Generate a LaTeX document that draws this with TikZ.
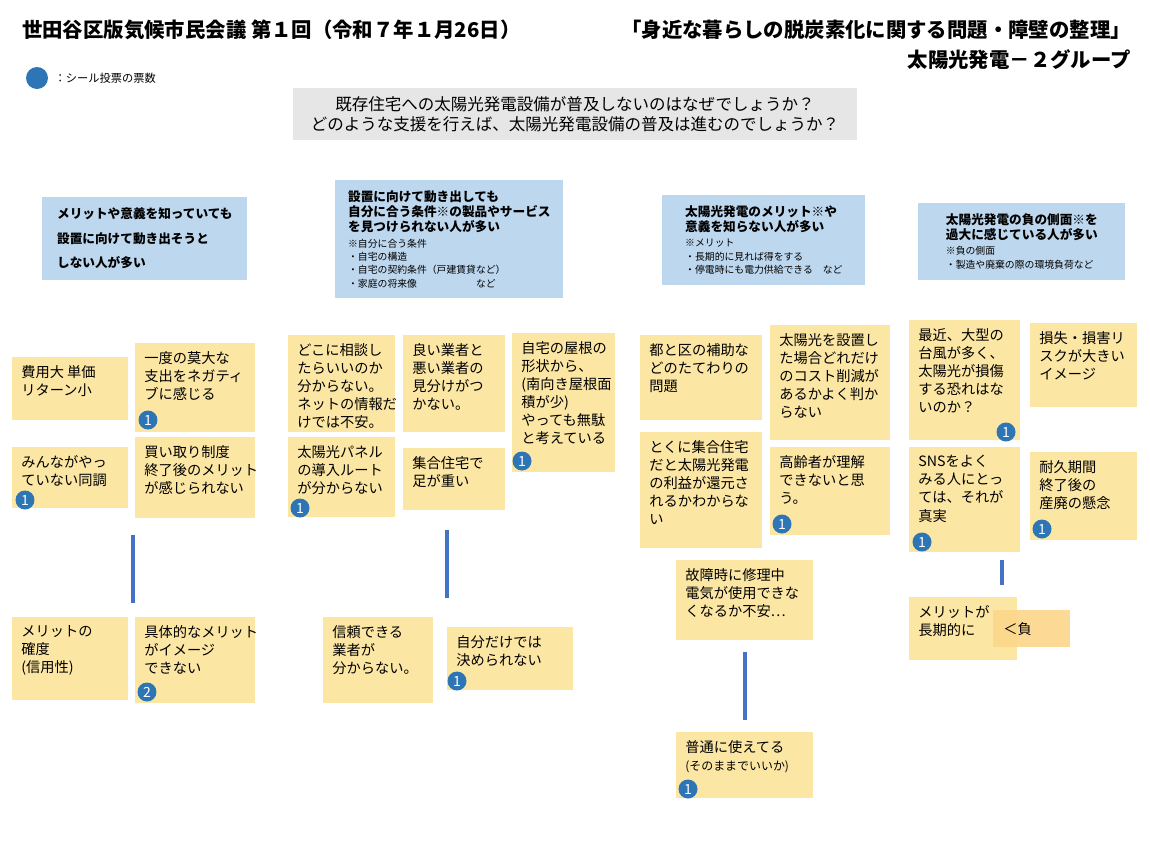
\documentclass[tikz,border=0pt]{standalone}
\usepackage{fontspec}
\setmainfont{Noto Sans CJK JP}
\usetikzlibrary{positioning}
\definecolor{notey}{HTML}{FCE6A4}
\definecolor{headblue}{HTML}{BDD7EE}
\definecolor{votedot}{HTML}{2E75B6}
\definecolor{askgray}{HTML}{E7E6E6}
\definecolor{barblue}{HTML}{4472C4}
\newcommand{\notebox}[6]{%
  \node[note, minimum width=#4*0.02cm, minimum height=#5*0.02cm] (#1) at (#2,#3) {};
  \node[notetext] at ([shift={(9,8)}]#1.north west) {#6};}
\newcommand{\hsub}{\fontsize{5.6}{6.6}\selectfont\mdseries}
\begin{document}
\begin{tikzpicture}[x=0.02cm,y=-0.02cm]
\tikzset{
note/.style={anchor=north west, fill=notey, inner sep=0pt}, % sticky notes
notetext/.style={anchor=north west, inner sep=0pt, font=\fontsize{8.1}{10.3}\selectfont, align=left},
header/.style={anchor=north west, fill=headblue, inner sep=6pt, align=left, font=\fontsize{7.2}{8.6}\selectfont\bfseries},
vote/.style={circle, fill=votedot, text=white, inner sep=0pt, minimum size=0.38cm, font=\fontsize{8}{8}\selectfont},
bar/.style={barblue, line width=2pt},
}
\useasboundingbox[fill=white] (0,0) rectangle (1150,863);
% titles
\node[anchor=west, font=\fontsize{11.6}{13}\selectfont\bfseries] (title) at (16,30) {世田谷区版気候市民会議 第１回（令和７年１月26日）};
\node[anchor=east, font=\fontsize{11.6}{13}\selectfont\bfseries] (theme) at (1137,30) {「身近な暮らしの脱炭素化に関する問題・障壁の整理」};
\node[anchor=east, font=\fontsize{11.6}{13}\selectfont\bfseries] (group) at (1137,60) {太陽光発電－２グループ};
\node[vote, minimum size=0.44cm] (legdot) at (37,78) {};
\node[right=0pt of legdot, font=\fontsize{6.4}{7}\selectfont] (legtext) {：シール投票の票数};
% question
\node[fill=askgray, minimum width=564*0.02cm, minimum height=52*0.02cm, align=center, font=\fontsize{9.4}{11.6}\selectfont] (ask) at (575,114) {既存住宅への太陽光発電設備が普及しないのはなぜでしょうか？\\どのような支援を行えば、太陽光発電設備の普及は進むのでしょうか？};
% headers
\node[header, minimum width=205*0.02cm, minimum height=79*0.02cm, font=\fontsize{7.2}{14}\selectfont\bfseries] (h1) at (42,197) {メリットや意義を知っていても\\設置に向けて動き出そうと\\しない人が多い};
\node[header, minimum width=228*0.02cm, minimum height=113*0.02cm] (h2) at (335,180) {設置に向けて動き出しても\\自分に合う条件※の製品やサービス\\を見つけられない人が多い\\{\hsub ※自分に合う条件}\\[-1pt]{\hsub ・自宅の構造}\\[-1pt]{\hsub ・自宅の契約条件（戸建賃貸など）}\\[-1pt]{\hsub ・家庭の将来像\hspace{6em}など}};
\node[header, minimum width=203*0.02cm, minimum height=83*0.02cm] (h3) at (662,195) {太陽光発電のメリット※や\\意義を知らない人が多い\\{\hsub ※メリット}\\[-1pt]{\hsub ・長期的に見れば得をする}\\[-1pt]{\hsub ・停電時にも電力供給できる\quad など}};
\node[header, minimum width=207*0.02cm, minimum height=69*0.02cm] (h4) at (918,203) {太陽光発電の負の側面※を\\過大に感じている人が多い\\{\hsub ※負の側面}\\[-1pt]{\hsub ・製造や廃棄の際の環境負荷など}};
% column 1
\notebox{c1a}{12}{357}{116}{63}{費用大 単価\\リターン小}
\notebox{c1b}{135}{343}{120}{89}{一度の莫大な\\支出をネガティ\\ブに感じる}
\notebox{c1c}{12}{447}{116}{61}{みんながやっ\\ていない同調}
\notebox{c1d}{135}{437}{120}{81}{買い取り制度\\終了後のメリット\\が感じられない}
\notebox{c1e}{12}{617}{116}{83}{メリットの\\確度\\(信用性)}
\notebox{c1f}{135}{617}{120}{86}{具体的なメリット\\がイメージ\\できない}
\node[vote] (v1b) at (148,420) {1};
\node[vote] (v1c) at (25,500) {1};
\node[vote] (v1f) at (147,692) {2};
\coordinate (b1top) at (133,535); \coordinate (b1bot) at (133,603);
\draw[bar] (b1top) -- (b1bot);
% column 2
\notebox{c2a}{288}{335}{107}{97}{どこに相談し\\たらいいのか\\分からない。\\ネットの情報だ\\けでは不安。}
\notebox{c2b}{403}{335}{102}{97}{良い業者と\\悪い業者の\\見分けがつ\\かない。}
\notebox{c2c}{512}{333}{103}{139}{自宅の屋根の\\形状から、\\(南向き屋根面\\積が少)\\やっても無駄\\と考えている}
\notebox{c2d}{288}{437}{107}{80}{太陽光パネル\\の導入ルート\\が分からない}
\notebox{c2e}{403}{448}{102}{62}{集合住宅で\\足が重い}
\notebox{c2f}{323}{617}{110}{86}{信頼できる\\業者が\\分からない。}
\notebox{c2g}{447}{627}{126}{63}{自分だけでは\\決められない}
\node[vote] (v2c) at (522,461) {1};
\node[vote] (v2d) at (300,508) {1};
\node[vote] (v2g) at (457,681) {1};
\coordinate (b2top) at (447,530); \coordinate (b2bot) at (447,598);
\draw[bar] (b2top) -- (b2bot);
% column 3
\notebox{c3a}{640}{335}{122}{85}{都と区の補助な\\どのたてわりの\\問題}
\notebox{c3b}{770}{325}{120}{115}{太陽光を設置し\\た場合どれだけ\\のコスト削減が\\あるかよく判か\\らない}
\notebox{c3c}{640}{432}{122}{116}{とくに集合住宅\\だと太陽光発電\\の利益が還元さ\\れるかわからな\\い}
\notebox{c3d}{770}{447}{120}{88}{高齢者が理解\\できないと思\\う。}
\notebox{c3e}{676}{560}{137}{80}{故障時に修理中\\電気が使用できな\\くなるか不安…}
\notebox{c3f}{676}{732}{137}{66}{普通に使えてる\\{\fontsize{6.8}{8}\selectfont (そのままでいいか)}}
\node[vote] (v3d) at (782,524) {1};
\node[vote] (v3f) at (688,789) {1};
\coordinate (b3top) at (745,652); \coordinate (b3bot) at (745,720);
\draw[bar] (b3top) -- (b3bot);
% column 4
\notebox{c4a}{909}{320}{111}{120}{最近、大型の\\台風が多く、\\太陽光が損傷\\する恐れはな\\いのか？}
\notebox{c4b}{1030}{323}{107}{84}{損失・損害リ\\スクが大きい\\イメージ}
\notebox{c4c}{909}{447}{111}{105}{SNSをよく\\みる人にとっ\\ては、それが\\真実}
\notebox{c4d}{1030}{452}{107}{88}{耐久期間\\終了後の\\産廃の懸念}
\notebox{c4e}{909}{597}{108}{63}{メリットが\\長期的に}
\node[note, fill=notey!85!orange, minimum width=77*0.02cm, minimum height=37*0.02cm, opacity=0.9] (c4f) at (993,610) {};
\node[notetext, anchor=west] (c4ft) at ([xshift=0.2cm]c4f.west) {＜負};
\node[vote] (v4a) at (1006,432) {1};
\node[vote] (v4c) at (922,542) {1};
\node[vote] (v4d) at (1042,529) {1};
\coordinate (b4top) at (1002,560); \coordinate (b4bot) at (1002,585);
\draw[bar] (b4top) -- (b4bot);
\end{tikzpicture}
\end{document}
